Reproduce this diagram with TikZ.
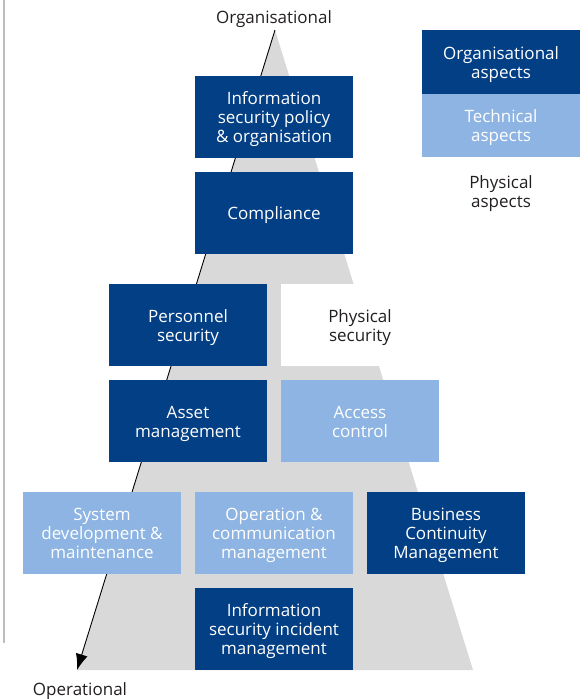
\documentclass[tikz,border=0pt]{standalone}
\usepackage{fontspec}
\setmainfont{Open Sans}
\usetikzlibrary{arrows.meta}
\definecolor{dblue}{HTML}{023F85}
\definecolor{lblue}{HTML}{8DB4E2}
\definecolor{pgrey}{HTML}{D9D9D9}
\definecolor{txt}{HTML}{231F20}
\definecolor{rule}{HTML}{BDBDBD}
\newcommand\boxtext[1]{\raisebox{-3pt}[\height][\depth]{\begin{tabular}{@{}c@{}}#1\end{tabular}}}
\begin{document}
\begin{tikzpicture}[x=1pt,y=-1pt,
  box/.style={minimum width=158pt, minimum height=82pt, inner sep=0pt, outer sep=0pt,
    font=\fontsize{17}{19}\selectfont, text=white, anchor=north west},
  dbox/.style={box, fill=dblue},
  lbox/.style={box, fill=lblue},
  wbox/.style={box, fill=white, text=txt},
  legbox/.style={box, minimum height=63.5pt},
  plain/.style={font=\fontsize{17}{19}\selectfont, text=txt, align=center, inner sep=0pt},
]
\useasboundingbox (0,0) rectangle (587,699);
% left rule
\coordinate (r1) at (4,0);
\coordinate (r2) at (4,643);
\draw[rule, line width=1.2pt] (r1) -- (r2);
% pyramid
\coordinate (apex) at (275,30);
\coordinate (bl) at (77,670);
\coordinate (br) at (473,670);
\fill[pgrey] (apex) -- (br) -- (bl) -- cycle;
\draw[black, line width=0.9pt, -{Latex[length=16pt,width=12pt]}] (apex) -- (bl);
% labels
\node[plain] (org) at (274,19) {Organisational};
\node[plain] (ops) at (80,691) {Operational};
% boxes
\node[dbox] (isp) at (195,76) {\boxtext{Information\\security policy\\\& organisation}};
\node[dbox] (comp) at (195,172) {\boxtext{Compliance}};
\node[dbox] (pers) at (109,284) {\boxtext{Personnel\\security}};
\node[wbox] (phys) at (281,284) {\boxtext{Physical\\security}};
\node[dbox] (asset) at (109,380) {\boxtext{Asset\\management}};
\node[lbox] (acc) at (281,380) {\boxtext{Access\\control}};
\node[lbox] (sysd) at (23,492) {\boxtext{System\\development \&\\maintenance}};
\node[lbox] (opc) at (195,492) {\boxtext{Operation \&\\communication\\management}};
\node[dbox] (bcm) at (367,492) {\boxtext{Business\\Continuity\\Management}};
\node[dbox] (inc) at (195,588) {\boxtext{Information\\security incident\\management}};
% legend
\node[legbox, fill=dblue] (lorg) at (422,30) {\boxtext{Organisational\\aspects}};
\node[legbox, fill=lblue] (ltech) at (422,93.5) {\boxtext{Technical\\aspects}};
\node[plain] (lphys) at (501,194) {Physical\\aspects};
\end{tikzpicture}
\end{document}
